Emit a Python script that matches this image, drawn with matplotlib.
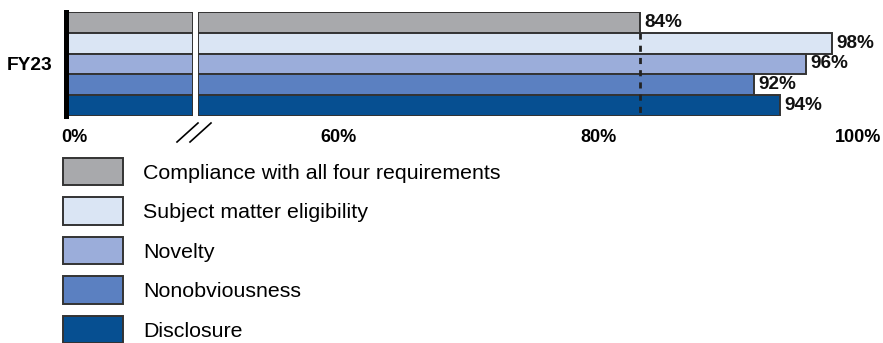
import matplotlib
matplotlib.use("Agg")
import matplotlib.pyplot as plt
import matplotlib.transforms as mtransforms
from matplotlib.patches import Patch
from matplotlib.lines import Line2D

plt.rcParams['font.family'] = ['Liberation Sans', 'DejaVu Sans']

# data
categories = ["Compliance with all four requirements", "Subject matter eligibility",
              "Novelty", "Nonobviousness", "Disclosure"]
values = [83.2, 98.0, 96.0, 92.0, 94.0]
value_labels = ["84%", "98%", "96%", "92%", "94%"]
colors = ["#a8a9ac", "#dae5f4", "#9badda", "#5b80c1", "#064f91"]
group = "FY23"
right_ticks = [60, 80, 100]

edge = "#333333"
fig = plt.figure(figsize=(8.83, 3.43), dpi=100)
W, H = 883.0, 343.0

ax_l = fig.add_axes([66 / W, (H - 116) / H, 127 / W, 104 / H])
ax_r = fig.add_axes([198 / W, (H - 116) / H, 672 / W, 104 / H])

l_lim = (0, 10)
r_lim = (49.2, 100.9)
ypos = list(range(len(values)))

# broken axis: left panel shows the start, right panel the end of each bar
ax_l.barh(ypos, [min(v, l_lim[1]) for v in values], height=1.0, color=colors,
          edgecolor=edge, linewidth=1.4)
ax_r.barh(ypos, [v - r_lim[0] for v in values], left=r_lim[0], height=1.0,
          color=colors, edgecolor=edge, linewidth=1.4)

for ax in (ax_l, ax_r):
    ax.set_ylim(len(values) - 0.5, -0.5)
    for s in ax.spines.values():
        s.set_visible(False)
    ax.tick_params(axis='both', length=0, labelsize=13, pad=9)

ax_l.set_xlim(*l_lim)
ax_l.set_xticks([0])
ax_l.set_xticklabels(["0%"], fontweight='bold')
off = mtransforms.ScaledTranslation(8 / 100, 0, fig.dpi_scale_trans)
for lab in ax_l.get_xticklabels():
    lab.set_transform(lab.get_transform() + off)
ax_l.spines['left'].set_visible(True)
ax_l.spines['left'].set_linewidth(3.6)
ax_l.spines['left'].set_color("black")
ax_l.set_yticks([2])
ax_l.set_yticklabels([group], fontweight='bold', fontsize=13.8)
ax_l.tick_params(axis='y', pad=10)

ax_r.set_xlim(*r_lim)
ax_r.set_xticks(right_ticks)
ax_r.set_xticklabels([f"{t}%" for t in right_ticks], fontweight='bold')
ax_r.set_yticks([])

# dashed reference line at the overall compliance level
ax_r.plot([values[0], values[0]], [0.5, len(values) - 0.5], color="#222222",
          linestyle=(0, (2.2, 2.2)), linewidth=2, zorder=3)

for i, (v, lab) in enumerate(zip(values, value_labels)):
    ax_r.text(v + 0.35, i, lab, va='center', ha='left', fontsize=13.6,
              fontweight='bold', color="#111111", clip_on=False)

# axis break marks
for x0 in (177, 190):
    fig.add_artist(Line2D([x0 / W, (x0 + 21) / W], [(H - 142) / H, (H - 123) / H],
                          color="black", linewidth=1.2))

handles = [Patch(facecolor=c, edgecolor=edge, linewidth=1.4) for c in colors]
fig.legend(handles, categories, loc='upper left', bbox_to_anchor=(63 / W, (H - 158) / H),
           frameon=False, fontsize=15.4, handlelength=2.8, handleheight=1.6,
           handletextpad=0.93, labelspacing=0.56, borderaxespad=0, borderpad=0)

fig.savefig("out.png", dpi=100)
